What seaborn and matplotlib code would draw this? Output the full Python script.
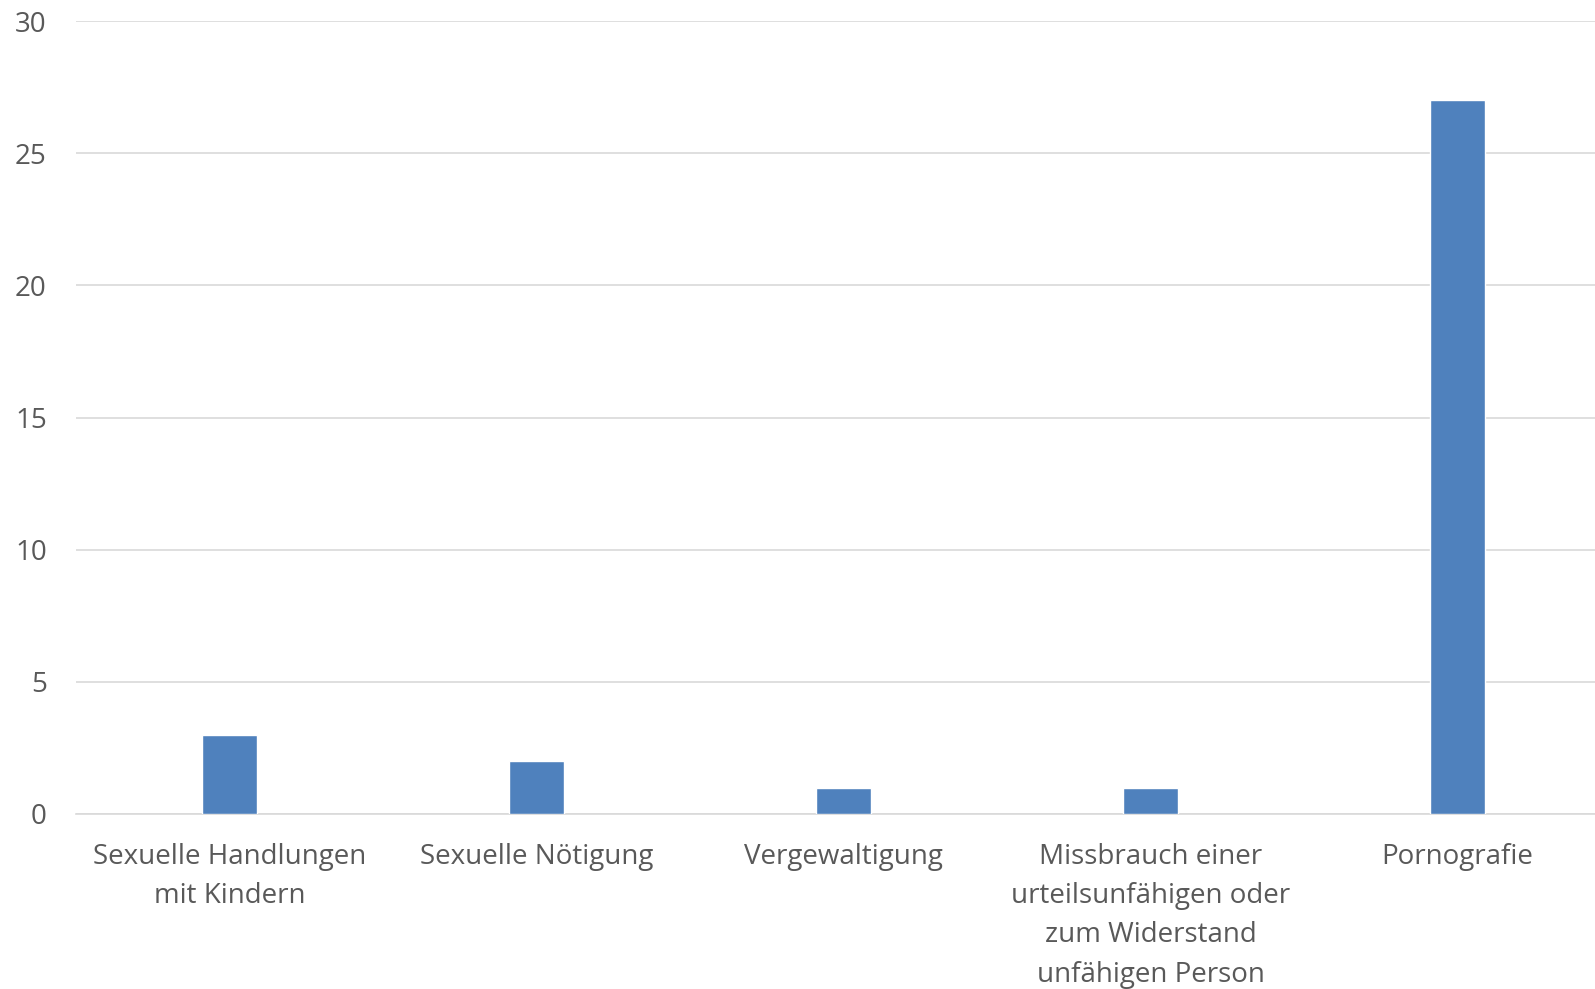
import matplotlib
matplotlib.use("Agg")
import matplotlib.pyplot as plt
import seaborn as sns
import pandas as pd

categories = [
    "Sexuelle Handlungen\nmit Kindern",
    "Sexuelle Nötigung",
    "Vergewaltigung",
    "Missbrauch einer\nurteilsunfähigen oder\nzum Widerstand\nunfähigen Person",
    "Pornografie",
]
values = [3, 2, 1, 1, 27]
y_ticks = [0, 5, 10, 15, 20, 25, 30]

bar_color = "#4F81BD"
text_color = "#595959"
grid_color = "#D9D9D9"

sns.set_theme(style="white")
plt.rcParams["font.family"] = ["Open Sans", "DejaVu Sans"]

df = pd.DataFrame({"category": categories, "value": values})

fig = plt.figure(figsize=(15.95, 9.89), dpi=100)
ax = fig.add_axes([76 / 1595, 1 - 814 / 989, 1535 / 1595, (814 - 21) / 989])

sns.barplot(data=df, x="category", y="value", color=bar_color, saturation=1,
            width=0.176, ax=ax, zorder=3)

ax.set_xlim(-0.5, 4.5)
ax.set_ylim(0, 30)
ax.set_yticks(y_ticks)
ax.yaxis.grid(True, color=grid_color, linewidth=1.2, zorder=0)
ax.set_axisbelow(True)
for s in ["top", "right", "left"]:
    ax.spines[s].set_visible(False)
ax.spines["bottom"].set_color(grid_color)
ax.spines["bottom"].set_linewidth(1.2)

ax.tick_params(axis="y", length=0, pad=21, labelsize=20, labelcolor=text_color)
ax.tick_params(axis="x", length=0, pad=21, labelsize=20, labelcolor=text_color)
for lbl in ax.get_xticklabels():
    lbl.set_linespacing(1.53)
ax.set_xlabel("")
ax.set_ylabel("")

fig.savefig("out.png", dpi=100)
